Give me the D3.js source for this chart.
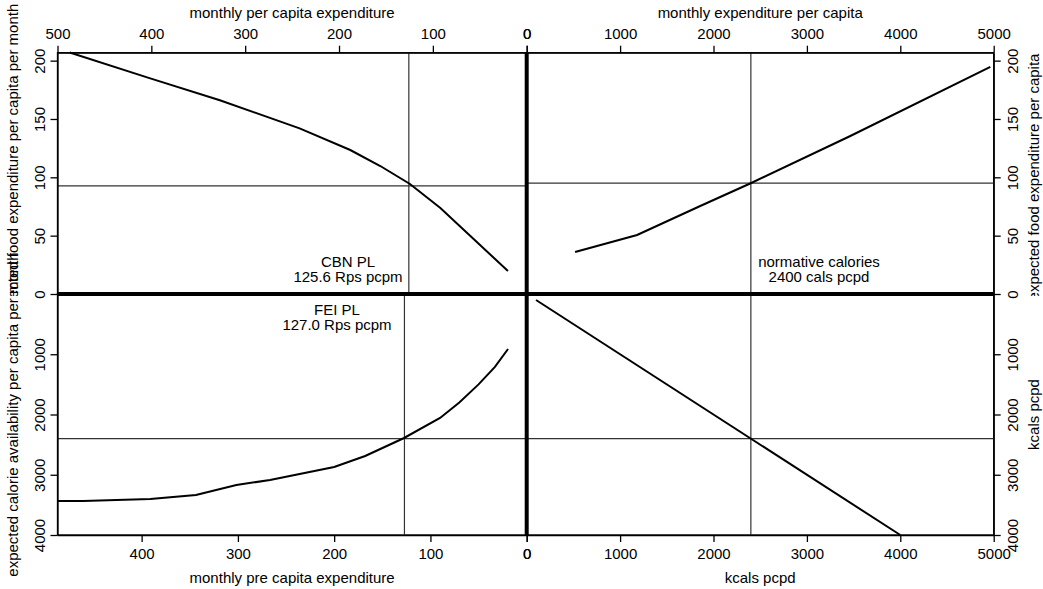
<!DOCTYPE html>
<html><head><meta charset="utf-8">
<script src="https://cdn.jsdelivr.net/npm/d3@7"></script>
<style>body{margin:0;background:#fff}svg{display:block}text{font-family:"Liberation Sans",Arial,sans-serif;font-size:15px;fill:#000}</style>
</head><body><svg id="c" width="1043" height="589"></svg>
<script>
// ---- data ----
const tlExp = [487, 402, 327, 242, 188, 156, 124.4, 92, 60, 20];       // monthly per capita expenditure
const tlFood = [207, 185, 166, 142, 123.4, 109.7, 94.3, 73.7, 49.7, 19.7]; // expected food expenditure
const trCal = [518, 1182, 1858, 2404, 3465, 4964];                   // calories
const trFood = [36, 50.6, 75.4, 95.1, 135.4, 194.6];                 // expected food expenditure
const brX = [100, 4000];
const brY = [100, 4000];
const blExp = [487.2, 461, 391, 343.6, 301.6, 266.6, 200, 167.8, 127.4, 90, 70, 50, 33, 19.4];
const blCal = [3436, 3436, 3402, 3336, 3170, 3087, 2871, 2689, 2390, 2058, 1800, 1500, 1210, 913];
const topLeftTicks = [500, 400, 300, 200, 100, 0];
const botLeftTicks = [400, 300, 200, 100, 0];
const calTicks = [0, 1000, 2000, 3000, 4000, 5000];
const foodTicks = [0, 50, 100, 150, 200];
const calYTicks = [1000, 2000, 3000, 4000];
const cbnPL = 125.6, feiPL = 127.0, normCal = 2400;
const cbnFood = 92.6, feiFood = 95.1;
const labels = {
  top1: "monthly per capita expenditure", top2: "monthly expenditure per capita",
  bot1: "monthly pre capita expenditure", bot2: "kcals pcpd",
  left1: "expected food expenditure per capita per month",
  left2: "expected calorie availability per capita per month",
  right1: "expected food expenditure per capita", right2: "kcals pcpd",
  cbn: ["CBN PL", "125.6 Rps pcpm"], fei: ["FEI PL", "127.0 Rps pcpm"],
  norm: ["normative calories", "2400 cals pcpd"]
};

// ---- layout ----
const L = 57.5, M = 526.7, R = 993.7, T = 52.7, Z = 294, B = 535;
const xTL = d3.scaleLinear().domain([500, 0]).range([L, M]);
const xBL = d3.scaleLinear().domain([487.4, 0]).range([L, M]);
const xR = d3.scaleLinear().domain([0, 5000]).range([M, R]);
const yT = d3.scaleLinear().domain([0, 206.8]).range([Z, T]);
const yB = d3.scaleLinear().domain([0, 4000]).range([Z, B]);
const fmt = d3.format("d");

const svg = d3.select("#c");
const defs = svg.append("defs");
defs.append("clipPath").attr("id", "topclip").append("rect").attr("x", 0).attr("y", 0).attr("width", 1043).attr("height", 296);

// panel frames
[[L, T, M, Z], [M, T, R, Z], [L, Z, M, B], [M, Z, R, B]].forEach(([x0, y0, x1, y1]) => {
  svg.append("rect").attr("x", x0).attr("y", y0).attr("width", x1 - x0).attr("height", y1 - y0)
    .attr("fill", "none").attr("stroke", "#000").attr("stroke-width", 1.3);
});

// reference lines
const ref = svg.append("g").attr("stroke", "#333").attr("stroke-width", 1.2);
ref.append("line").attr("x1", xTL(cbnPL)).attr("x2", xTL(cbnPL)).attr("y1", T).attr("y2", Z);
ref.append("line").attr("x1", L).attr("x2", M).attr("y1", yT(cbnFood)).attr("y2", yT(cbnFood));
ref.append("line").attr("x1", M).attr("x2", R).attr("y1", yT(feiFood)).attr("y2", yT(feiFood));
ref.append("line").attr("x1", xR(normCal)).attr("x2", xR(normCal)).attr("y1", T).attr("y2", B);
ref.append("line").attr("x1", xBL(feiPL)).attr("x2", xBL(feiPL)).attr("y1", Z).attr("y2", B);
ref.append("line").attr("x1", L).attr("x2", R).attr("y1", yB(normCal)).attr("y2", yB(normCal));

// thick axes
svg.append("line").attr("x1", M).attr("x2", M).attr("y1", T).attr("y2", B).attr("stroke", "#000").attr("stroke-width", 4);
svg.append("line").attr("x1", L).attr("x2", R).attr("y1", Z).attr("y2", Z).attr("stroke", "#000").attr("stroke-width", 4);

// curves
function curve(xs, ys, sx, sy) {
  const pts = xs.map((v, i) => [sx(v), sy(ys[i])]);
  svg.append("path").attr("d", d3.line()(pts)).attr("fill", "none").attr("stroke", "#000").attr("stroke-width", 2);
}
curve(tlExp, tlFood, xTL, yT);
curve(trCal, trFood, xR, yT);
curve(brX, brY, xR, yB);
curve(blExp, blCal, xBL, yB);

// axes
function styleAxis(g) { g.selectAll("path").attr("stroke", "#000").attr("stroke-width", 1.3); g.selectAll(".tick line").attr("stroke", "#000").attr("stroke-width", 1.3); g.selectAll("text").attr("font-size", null).attr("font-family", null); }
svg.append("g").attr("transform", `translate(0,${T})`).call(d3.axisTop(xTL).tickValues(topLeftTicks).tickFormat(fmt).tickSize(7).tickPadding(6.5).tickSizeOuter(0)).call(styleAxis);
svg.append("g").attr("transform", `translate(0,${T})`).call(d3.axisTop(xR).tickValues(calTicks).tickFormat(fmt).tickSize(7).tickPadding(6.5).tickSizeOuter(0)).call(styleAxis);
svg.append("g").attr("transform", `translate(0,${B})`).call(d3.axisBottom(xBL).tickValues(botLeftTicks).tickFormat(fmt).tickSize(7).tickPadding(6).tickSizeOuter(0)).call(styleAxis);
svg.append("g").attr("transform", `translate(0,${B})`).call(d3.axisBottom(xR).tickValues(calTicks).tickFormat(fmt).tickSize(7).tickPadding(6).tickSizeOuter(0)).call(styleAxis);

function vAxis(scale, ticks, side) {
  const g = svg.append("g").attr("transform", `translate(${side === "left" ? L : R},0)`)
    .call((side === "left" ? d3.axisLeft(scale) : d3.axisRight(scale)).tickValues(ticks).tickFormat(fmt).tickSize(7).tickSizeOuter(0))
    .call(styleAxis);
  g.selectAll(".tick text").attr("x", null).attr("dy", null)
    .attr("text-anchor", "middle")
    .attr("transform", `translate(${side === "left" ? -17.5 : 19.5},0) rotate(-90)`)
    .attr("dy", "0.35em");
}
vAxis(yT, foodTicks, "left");
vAxis(yB, calYTicks, "left");
vAxis(yT, foodTicks, "right");
vAxis(yB, calYTicks, "right");

// titles
svg.append("text").attr("x", (L + M) / 2).attr("y", 18).attr("text-anchor", "middle").text(labels.top1);
svg.append("text").attr("x", (M + R) / 2).attr("y", 18).attr("text-anchor", "middle").text(labels.top2);
svg.append("text").attr("x", (L + M) / 2).attr("y", 583).attr("text-anchor", "middle").text(labels.bot1);
svg.append("text").attr("x", (M + R) / 2).attr("y", 583).attr("text-anchor", "middle").text(labels.bot2);
svg.append("g").attr("clip-path", "url(#topclip)").append("text")
  .attr("transform", `translate(13,163) rotate(-90)`).attr("dy", "0.35em").attr("text-anchor", "middle").text(labels.left1);
svg.append("text").attr("transform", `translate(13,${(Z + B) / 2}) rotate(-90)`).attr("dy", "0.35em").attr("text-anchor", "middle").text(labels.left2);
svg.append("g").attr("clip-path", "url(#topclip)").append("text")
  .attr("transform", `translate(1034,177) rotate(-90)`).attr("dy", "0.35em").attr("text-anchor", "middle").text(labels.right1);
svg.append("text").attr("transform", `translate(1034,${(Z + B) / 2}) rotate(-90)`).attr("dy", "0.35em").attr("text-anchor", "middle").text(labels.right2);

// annotations
function note(lines, x, y) {
  lines.forEach((s, i) => svg.append("text").attr("x", x).attr("y", y + i * 15).attr("text-anchor", "middle").text(s));
}
note(labels.cbn, 348, 267);
note(labels.fei, 337, 315);
note(labels.norm, 819, 267);
</script></body></html>
